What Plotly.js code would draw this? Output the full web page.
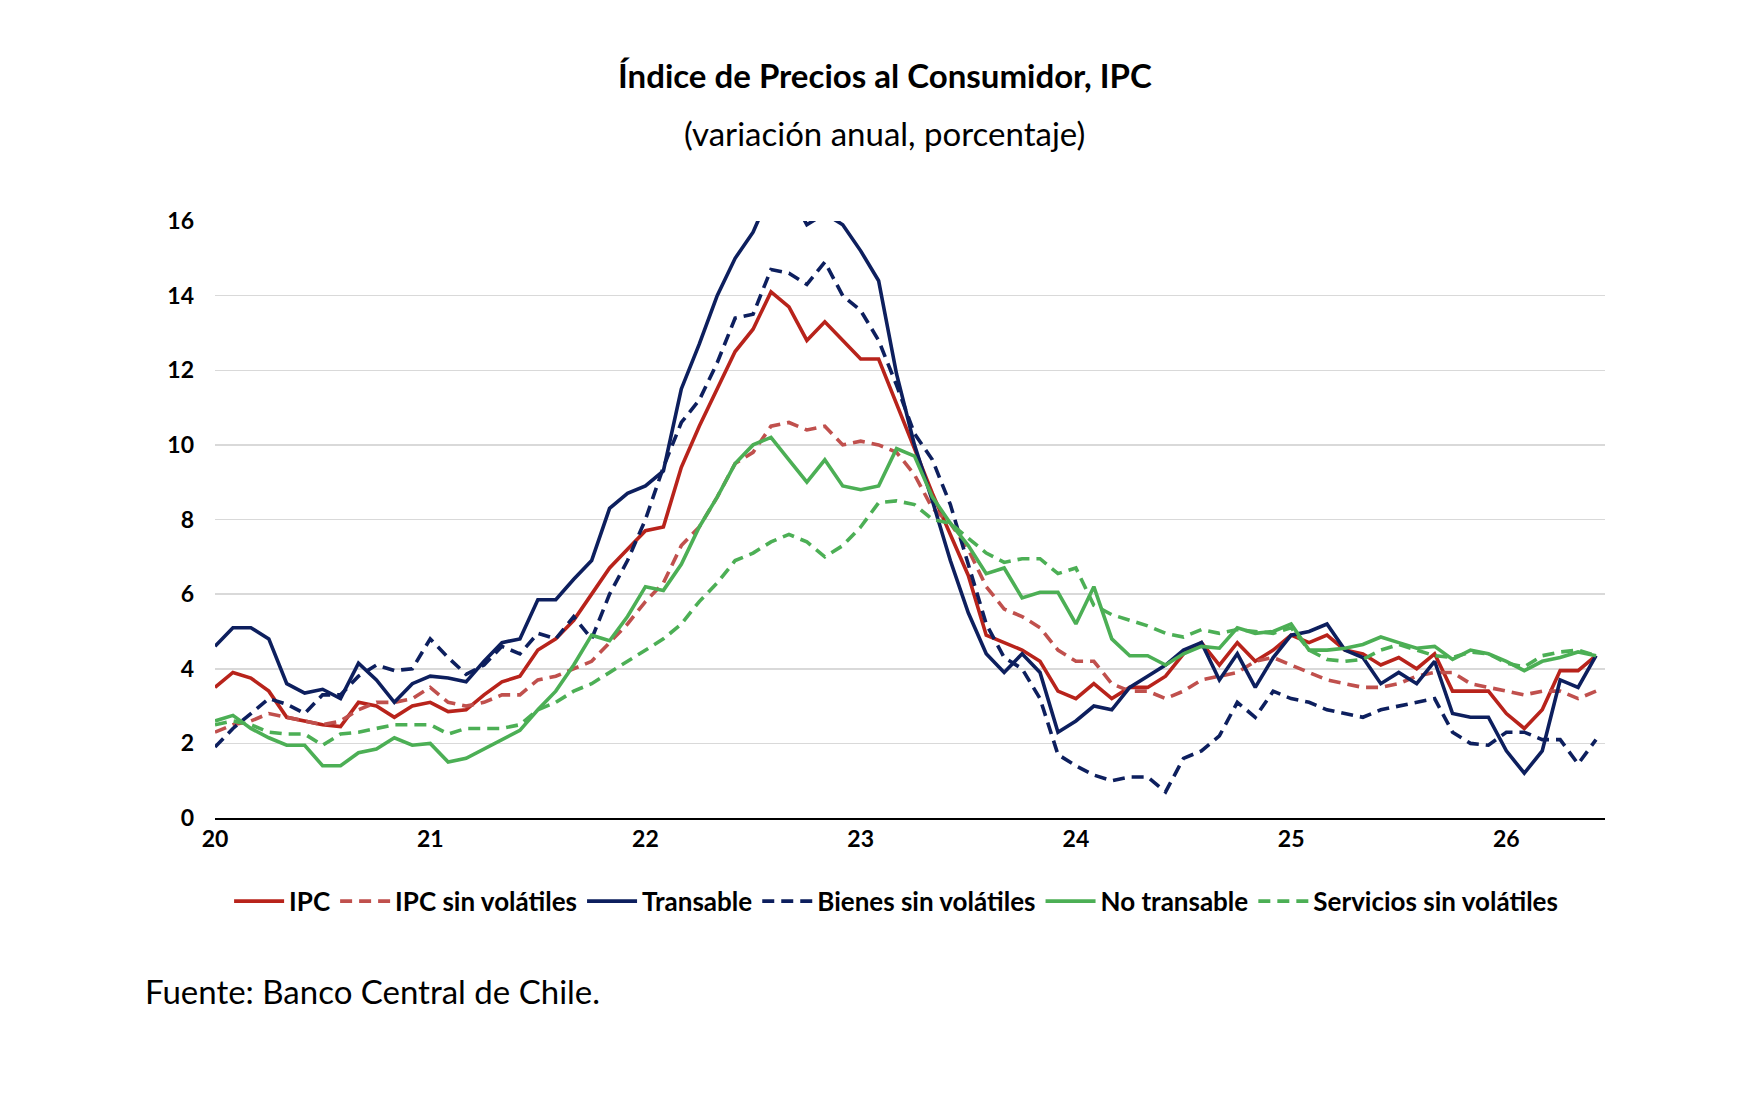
<!DOCTYPE html>
<html><head><meta charset="utf-8">
<script src="https://cdn.plot.ly/plotly-3.0.1.min.js"></script>
<style>body{margin:0;background:#fff}#c{width:1748px;height:1096px}</style>
</head><body><div id="c"></div>
<script>
const tickLabels = ["20","21","22","23","24","25","26"];
const ipc = [3.5,3.9,3.75,3.4,2.7,2.6,2.5,2.45,3.1,3.0,2.7,3.0,
 3.1,2.85,2.9,3.3,3.65,3.8,4.5,4.8,5.3,6.0,6.7,7.2,
 7.7,7.8,9.4,10.5,11.5,12.5,13.1,14.1,13.7,12.8,13.3,12.8,
 12.3,12.3,11.1,9.9,8.7,7.6,6.5,4.9,4.7,4.5,4.2,3.4,
 3.2,3.6,3.2,3.5,3.5,3.8,4.4,4.7,4.1,4.7,4.2,4.5,
 4.9,4.7,4.9,4.5,4.4,4.1,4.3,4.0,4.4,3.4,3.4,3.4,
 2.8,2.4,2.9,3.95,3.95,4.35];
const ipcSV = [2.3,2.5,2.6,2.8,2.7,2.6,2.5,2.6,2.9,3.1,3.1,3.2,
 3.5,3.1,3.0,3.1,3.3,3.3,3.7,3.8,4.0,4.2,4.7,5.2,
 5.8,6.3,7.3,7.8,8.6,9.5,9.8,10.5,10.6,10.4,10.5,10.0,
 10.1,10.0,9.8,9.2,8.3,7.9,7.2,6.2,5.6,5.4,5.1,4.5,
 4.2,4.2,3.6,3.4,3.4,3.2,3.4,3.7,3.8,3.9,4.2,4.3,
 4.1,3.9,3.7,3.6,3.5,3.5,3.6,3.8,3.9,3.9,3.6,3.5,
 3.4,3.3,3.4,3.4,3.2,3.4];
const transable = [4.6,5.1,5.1,4.8,3.6,3.35,3.45,3.2,4.15,3.7,3.1,3.6,
 3.8,3.75,3.65,4.2,4.7,4.8,5.85,5.85,6.4,6.9,8.3,8.7,
 8.9,9.3,11.5,12.7,14.0,15.0,15.7,16.8,16.8,15.9,16.2,15.9,
 15.2,14.4,11.9,10.0,8.5,6.9,5.5,4.4,3.9,4.4,3.9,2.3,
 2.6,3.0,2.9,3.5,3.8,4.1,4.5,4.7,3.7,4.4,3.5,4.3,
 4.9,5.0,5.2,4.5,4.3,3.6,3.9,3.6,4.2,2.8,2.7,2.7,
 1.8,1.2,1.8,3.7,3.5,4.35];
const bienesSV = [1.9,2.4,2.8,3.2,3.05,2.8,3.3,3.3,3.8,4.1,3.95,4.0,
 4.8,4.3,3.85,4.1,4.6,4.4,4.95,4.8,5.4,4.8,6.0,6.9,
 8.0,9.4,10.6,11.2,12.2,13.4,13.5,14.7,14.6,14.3,14.9,14.0,
 13.6,12.8,11.6,10.3,9.6,8.4,6.8,5.2,4.3,4.0,3.2,1.7,
 1.4,1.15,1.0,1.1,1.1,0.7,1.6,1.8,2.2,3.1,2.7,3.4,
 3.2,3.1,2.9,2.8,2.7,2.9,3.0,3.1,3.2,2.3,2.0,1.95,
 2.3,2.3,2.1,2.1,1.45,2.1];
const noTransable = [2.6,2.75,2.4,2.15,1.95,1.95,1.4,1.4,1.75,1.85,2.15,1.95,
 2.0,1.5,1.6,1.85,2.1,2.35,2.9,3.4,4.1,4.9,4.75,5.4,
 6.2,6.1,6.8,7.8,8.6,9.5,10.0,10.2,9.6,9.0,9.6,8.9,
 8.8,8.9,9.9,9.7,8.6,7.9,7.3,6.55,6.7,5.9,6.05,6.05,
 5.2,6.2,4.8,4.35,4.35,4.1,4.4,4.6,4.55,5.1,4.95,5.0,
 5.2,4.5,4.5,4.55,4.65,4.85,4.7,4.55,4.6,4.25,4.5,4.4,
 4.2,3.95,4.2,4.3,4.45,4.35];
const serviciosSV = [2.5,2.6,2.5,2.3,2.25,2.25,1.95,2.25,2.3,2.4,2.5,2.5,
 2.5,2.25,2.4,2.4,2.4,2.5,2.9,3.1,3.4,3.6,3.9,4.2,
 4.5,4.8,5.2,5.8,6.3,6.9,7.1,7.4,7.6,7.4,7.0,7.3,
 7.8,8.45,8.5,8.4,8.0,7.9,7.5,7.1,6.85,6.95,6.95,6.55,
 6.7,5.7,5.45,5.3,5.15,4.95,4.85,5.05,4.95,5.05,5.0,4.95,
 5.1,4.5,4.25,4.2,4.25,4.5,4.65,4.5,4.35,4.3,4.45,4.4,
 4.15,4.05,4.35,4.45,4.5,4.35];

const x = ipc.map((_, i) => i);
const mk = (name, y, color, dash) => ({x, y, name, type:'scatter', mode:'lines',
  line:{color, width:3.6, dash: dash ? '12px,7px' : 'solid'}});
const traces = [
  mk('IPC', ipc, '#B8231B', false),
  mk('IPC sin volátiles', ipcSV, '#C0504D', true),
  mk('Transable', transable, '#0D1F5E', false),
  mk('Bienes sin volátiles', bienesSV, '#0D1F5E', true),
  mk('No transable', noTransable, '#4CAF55', false),
  mk('Servicios sin volátiles', serviciosSV, '#4CAF55', true)
];
const layout = {
  width:1748, height:1096, paper_bgcolor:'#fff', plot_bgcolor:'#fff',
  font:{family:'Lato, "Open Sans", sans-serif', color:'#000'},
  margin:{l:215, r:143, t:221, b:278},
  showlegend:true,
  legend:{orientation:'h', x:0.49, xanchor:'center', y:-0.1, yanchor:'top',
    font:{size:26, family:'Lato', weight:'bold'}, tracegroupgap:0, itemwidth:50},
  xaxis:{range:[0,77.5], tickvals:tickLabels.map((_,i)=>i*12), ticktext:tickLabels,
    showgrid:false, showline:true, linecolor:'#000', linewidth:1.5, ticks:'',
    tickfont:{size:23, weight:'bold'}, zeroline:false},
  yaxis:{range:[0,16], dtick:2, showgrid:true, gridcolor:'#D9D9D9', gridwidth:1.5,
    zeroline:false, showline:false, tickfont:{size:23, weight:'bold'}, ticklabelstandoff:20},
  annotations:[
    {text:'<b>Índice de Precios al Consumidor, IPC</b>', xref:'paper', yref:'paper', x:0.482, y:1.282, showarrow:false, font:{size:33}},
    {text:'(variación anual, porcentaje)', xref:'paper', yref:'paper', x:0.482, y:1.185, showarrow:false, font:{size:33}},
    {text:'Fuente: Banco Central de Chile.', xref:'paper', yref:'paper', x:-0.052, xanchor:'left', y:-0.326, showarrow:false, font:{size:33}}
  ]
};
Plotly.newPlot('c', traces, layout, {displayModeBar:false, staticPlot:true});
</script></body></html>
